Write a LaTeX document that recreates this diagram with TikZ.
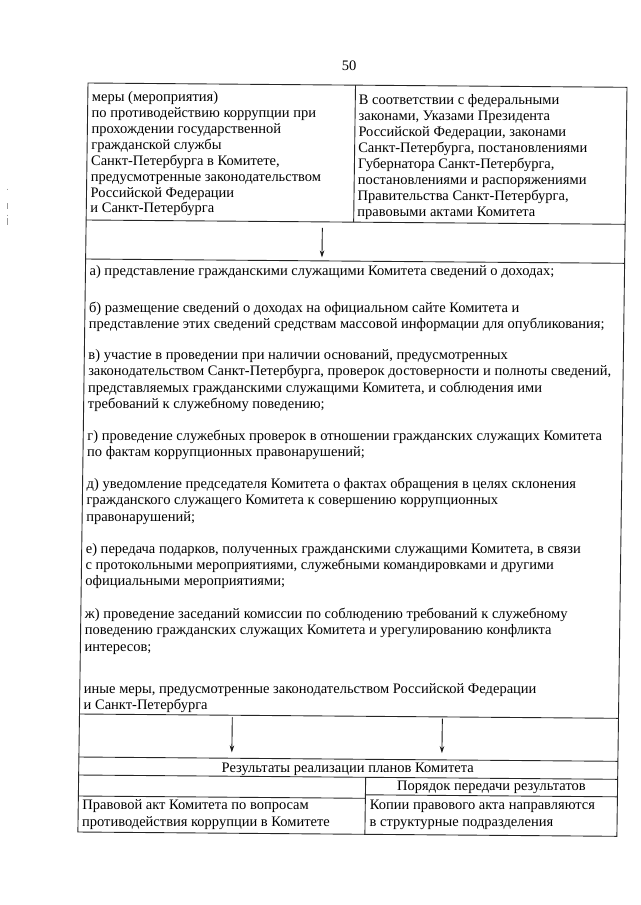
\documentclass[tikz,border=0pt]{standalone}
\usepackage{fontspec}
\setmainfont{Liberation Serif}
\usetikzlibrary{arrows.meta}
\begin{document}
\begin{tikzpicture}[x=1pt,y=-1pt,
  txt/.style={anchor=base west,inner sep=0pt,font=\fontsize{14.5}{16}\selectfont},
  ctxt/.style={anchor=base,inner sep=0pt,font=\fontsize{14.5}{16}\selectfont},
  rule/.style={line width=0.9pt,draw=black!85},
  arr/.style={line width=0.9pt,draw=black!90,-{Stealth[length=7pt,width=4.5pt]}},
  scanmark/.style={line width=0.9pt,draw=black!40}]
\fill[white] (0,0) rectangle (640,905);
\useasboundingbox (0,0) rectangle (640,905);
% scan marks at the left margin
\draw[scanmark] (7,188.5) -- (7,190);
\draw[scanmark] (7,203) -- (7,209);
\draw[scanmark] (7,214.5) -- (7,216);
\draw[scanmark] (7,218) -- (7,225);
% the scanned page is slightly skewed
\begin{scope}[cm={1,-0.008,0.0135,1,(1.12pt,0.704pt)}]
\node[ctxt] (pg) at (349,68.8) {50};
% frame and rules
\draw[rule] (88,83) rectangle (627,832);
\draw[rule] (355.5,83) -- (355.5,220);
\draw[rule] (88,220) -- (627,220);
\draw[rule] (88,259) -- (627,259);
\draw[rule] (88,714) -- (627,714);
\draw[rule] (88,757) -- (627,757);
\draw[rule] (88,775) -- (627,775);
\draw[rule] (375,792.5) -- (627,792.5);
\draw[rule] (88,796) -- (375,796);
\draw[rule] (375,775) -- (375,832);
% top left cell
\node[txt] (l1) at (92,101) {меры (мероприятия)};
\node[txt] (l2) at (92,117) {по противодействию коррупции при};
\node[txt] (l3) at (92,133) {прохождении государственной};
\node[txt] (l4) at (92,149) {гражданской службы};
\node[txt] (l5) at (92,165) {Санкт-Петербурга в Комитете,};
\node[txt] (l6) at (92,181) {предусмотренные законодательством};
\node[txt] (l7) at (92,197) {Российской Федерации};
\node[txt] (l8) at (92,212) {и Санкт-Петербурга};
% top right cell
\node[txt] (r1) at (359,102) {В соответствии с федеральными};
\node[txt] (r2) at (359,118.1) {законами, Указами Президента};
\node[txt] (r3) at (359,134.2) {Российской Федерации, законами};
\node[txt] (r4) at (359,150.3) {Санкт-Петербурга, постановлениями};
\node[txt] (r5) at (359,166.4) {Губернатора Санкт-Петербурга,};
\node[txt] (r6) at (359,182.5) {постановлениями и распоряжениями};
\node[txt] (r7) at (359,198.6) {Правительства Санкт-Петербурга,};
\node[txt] (r8) at (359,214.7) {правовыми актами Комитета};
% arrow 1
\coordinate (a1s) at (324.2,226);
\coordinate (a1e) at (324.2,255.5);
\draw[arr] (a1s) -- (a1e);
% big cell
\node[txt] (m1) at (92,275) {а) представление гражданскими служащими Комитета сведений о доходах;};
\node[txt] (m2) at (92,312) {б) размещение сведений о доходах на официальном сайте Комитета и};
\node[txt] (m3) at (92,328.5) {представление этих сведений средствам массовой информации для опубликования;};
\node[txt] (m4) at (92,359.5) {в) участие в проведении при наличии оснований, предусмотренных};
\node[txt] (m5) at (92,375.5) {законодательством Санкт-Петербурга, проверок достоверности и полноты сведений,};
\node[txt] (m6) at (92,392) {представляемых гражданскими служащими Комитета, и соблюдения ими};
\node[txt] (m7) at (92,408.5) {требований к служебному поведению;};
\node[txt] (m8) at (92,440) {г) проведение служебных проверок в отношении гражданских служащих Комитета};
\node[txt] (m9) at (92,456.5) {по фактам коррупционных правонарушений;};
\node[txt] (m10) at (92,488) {д) уведомление председателя Комитета о фактах обращения в целях склонения};
\node[txt] (m11) at (92,504.5) {гражданского служащего Комитета к совершению коррупционных};
\node[txt] (m12) at (92,521) {правонарушений;};
\node[txt] (m13) at (92,553) {е) передача подарков, полученных гражданскими служащими Комитета, в связи};
\node[txt] (m14) at (92,569) {с протокольными мероприятиями, служебными командировками и другими};
\node[txt] (m15) at (92,585.5) {официальными мероприятиями;};
\node[txt] (m16) at (92,618) {ж) проведение заседаний комиссии по соблюдению требований к служебному};
\node[txt] (m17) at (92,634.5) {поведению гражданских служащих Комитета и урегулированию конфликта};
\node[txt] (m18) at (92,651) {интересов;};
\node[txt] (m19) at (92,693) {иные меры, предусмотренные законодательством Российской Федерации};
\node[txt] (m20) at (92,709) {и Санкт-Петербурга};
% arrows 2 and 3
\coordinate (a2s) at (240.8,716);
\coordinate (a2e) at (240.8,751);
\draw[arr] (a2s) -- (a2e);
\coordinate (a3s) at (450.8,715.5);
\coordinate (a3e) at (450.8,750);
\draw[arr] (a3s) -- (a3e);
% bottom table
\node[ctxt] (res) at (357,770.8) {Результаты реализации планов Комитета};
\node[ctxt] (ord) at (501,787) {Порядок передачи результатов};
\node[txt] (b1) at (92,809.5) {Правовой акт Комитета по вопросам};
\node[txt] (b2) at (92,826) {противодействия коррупции в Комитете};
\node[txt] (c1) at (379.5,807.5) {Копии правового акта направляются};
\node[txt] (c2) at (379.5,824.5) {в структурные подразделения};
\end{scope}
\end{tikzpicture}
\end{document}
